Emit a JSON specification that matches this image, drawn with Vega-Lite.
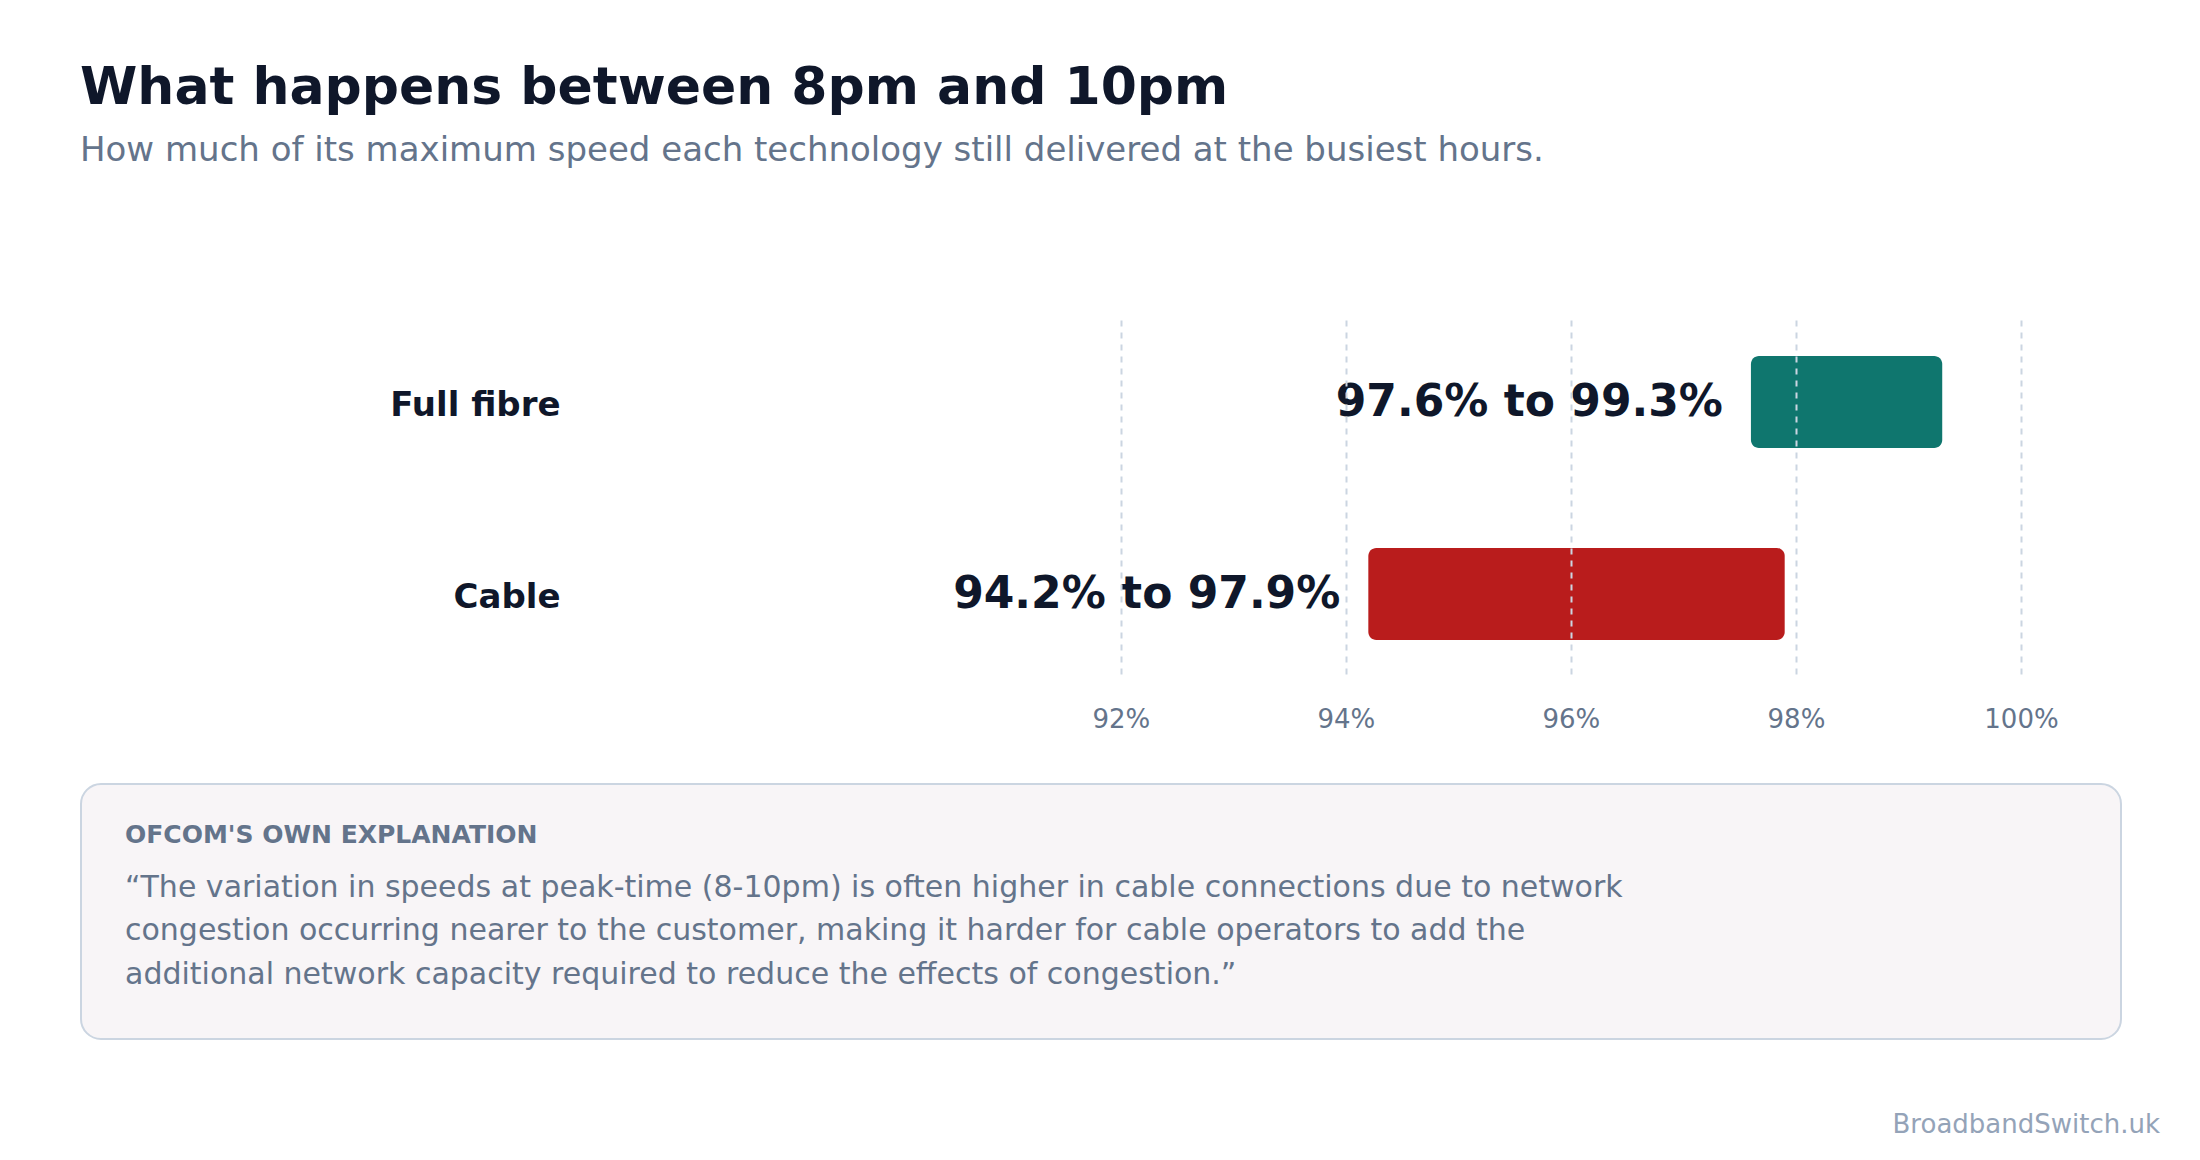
{
  "$schema": "https://vega.github.io/schema/vega-lite/v6.json",
  "description": "Peak-time (8-10pm) share of maximum speed, full fibre vs cable.",
  "background": "white",
  "padding": {"left": 80, "top": 62, "right": 40, "bottom": 20},
  "title": {
    "text": "What happens between 8pm and 10pm",
    "subtitle": "How much of its maximum speed each technology still delivered at the busiest hours.",
    "anchor": "start",
    "font": "DejaVu Sans",
    "fontSize": 52,
    "fontWeight": "bold",
    "color": "#0f172a",
    "subtitleFont": "DejaVu Sans",
    "subtitleFontSize": 34,
    "subtitleColor": "#64748b",
    "subtitlePadding": 19,
    "offset": 151
  },
  "spacing": 51,
  "vconcat": [
    {
      "width": 1940,
      "height": 359,
      "view": {"stroke": null},
      "data": {
        "values": [
          {"technology": "Full fibre", "low": 97.6, "high": 99.3, "label": "97.6% to 99.3%"},
          {"technology": "Cable", "low": 94.2, "high": 97.9, "label": "94.2% to 97.9%"}
        ]
      },
      "encoding": {
        "y": {
          "field": "technology",
          "type": "nominal",
          "sort": ["Full fibre", "Cable"],
          "scale": {"paddingInner": 0.5208, "paddingOuter": 0.1953, "align": 0.48},
          "axis": {
            "title": null,
            "domain": false,
            "ticks": false,
            "tickSize": 0,
            "grid": false,
            "labelPadding": -479,
            "labelOffset": 4,
            "labelFont": "DejaVu Sans",
            "labelFontSize": 34,
            "labelFontWeight": "bold",
            "labelColor": "#0f172a"
          }
        }
      },
      "layer": [
        {
          "mark": {"type": "bar", "cornerRadius": 8},
          "encoding": {
            "x": {
              "field": "low",
              "type": "quantitative",
              "scale": {"domain": [82.76, 100], "nice": false, "zero": false},
              "axis": {
                "title": null,
                "values": [92, 94, 96, 98, 100],
                "labelExpr": "datum.value + '%'",
                "labelFlush": false,
                "domain": false,
                "ticks": false,
                "tickSize": 0,
                "grid": true,
                "gridColor": "#cbd5e1",
                "gridDash": [6, 6],
                "gridDashOffset": 7,
                "gridWidth": 2,
                "labelPadding": 27,
                "labelFont": "DejaVu Sans",
                "labelFontSize": 26,
                "labelColor": "#64748b",
                "zindex": 1
              }
            },
            "x2": {"field": "high"},
            "color": {
              "field": "technology",
              "type": "nominal",
              "scale": {"domain": ["Full fibre", "Cable"], "range": ["#0f766e", "#b91c1c"]},
              "legend": null
            }
          }
        },
        {
          "mark": {
            "type": "text",
            "align": "right",
            "baseline": "middle",
            "dx": -28,
            "dy": 1,
            "font": "DejaVu Sans",
            "fontSize": 44,
            "fontWeight": "bold",
            "color": "#0f172a"
          },
          "encoding": {
            "x": {"field": "low", "type": "quantitative"},
            "text": {"field": "label"}
          }
        }
      ]
    },
    {
      "width": 2040,
      "height": 255,
      "view": {"fill": "#f8f5f7", "stroke": "#cbd5e1", "strokeWidth": 2, "cornerRadius": 20},
      "title": {
        "text": "BroadbandSwitch.uk",
        "orient": "bottom",
        "anchor": "end",
        "baseline": "alphabetic",
        "offset": 93.5,
        "dx": 39,
        "font": "DejaVu Sans",
        "fontSize": 26,
        "fontWeight": "normal",
        "color": "#94a3b8"
      },
      "data": {
        "values": [
          {"line": 0, "kind": "heading", "text": "OFCOM'S OWN EXPLANATION"},
          {"line": 1, "kind": "quote", "text": "“The variation in speeds at peak-time (8-10pm) is often higher in cable connections due to network"},
          {"line": 2, "kind": "quote", "text": "congestion occurring nearer to the customer, making it harder for cable operators to add the"},
          {"line": 3, "kind": "quote", "text": "additional network capacity required to reduce the effects of congestion.”"}
        ]
      },
      "encoding": {
        "x": {
          "datum": 0,
          "type": "quantitative",
          "scale": {"domain": [0, 1]},
          "axis": null
        },
        "y": {
          "field": "line",
          "type": "quantitative",
          "scale": {"domain": [-1.563, 4.299], "reverse": true, "nice": false, "zero": false},
          "axis": null
        },
        "text": {"field": "text"}
      },
      "layer": [
        {
          "transform": [{"filter": "datum.kind === 'heading'"}],
          "mark": {
            "type": "text",
            "align": "left",
            "baseline": "alphabetic",
            "dx": 44,
            "dy": -8.5,
            "font": "DejaVu Sans",
            "fontSize": 25,
            "fontWeight": "bold",
            "color": "#64748b"
          }
        },
        {
          "transform": [{"filter": "datum.kind === 'quote'"}],
          "mark": {
            "type": "text",
            "align": "left",
            "baseline": "alphabetic",
            "dx": 44,
            "dy": 1.5,
            "font": "DejaVu Sans",
            "fontSize": 30,
            "color": "#64748b"
          }
        }
      ]
    }
  ],
  "config": {
    "font": "DejaVu Sans",
    "view": {"stroke": null}
  }
}
